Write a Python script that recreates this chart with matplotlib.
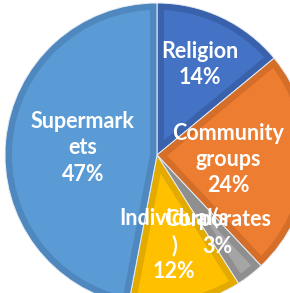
import numpy as np
import matplotlib.pyplot as plt
from matplotlib.patches import Wedge

# data
labels = ["Religion", "Community\ngroups", "Corporates", "Individual(s\n)", "Supermark\nets"]
values = [14, 24, 3, 12, 47]
colors = ["#4472C4", "#ED7D31", "#A5A5A5", "#FFC000", "#5B9BD5"]
edges = ["#3A62AC", "#D46E28", "#8F8F8F", "#E3AA00", "#4F88BE"]

# layout (pixel space of the 290x293 picture)
cx, cy, R = 157, 293 - 155, 152
label_r = [0.66, 0.47, 0.65, 0.60, 0.49]

fig = plt.figure(figsize=(2.9, 2.93), dpi=100)
ax = fig.add_axes([0, 0, 1, 1])
ax.set_xlim(0, 290)
ax.set_ylim(0, 293)
ax.set_aspect("equal")
ax.axis("off")

start = 90.0
total = sum(values)
for i in range(len(values)):
    span = 360.0 * values[i] / total
    t2 = start
    t1 = start - span
    w = Wedge((cx, cy), R, t1, t2, facecolor=colors[i], edgecolor=edges[i], linewidth=10)
    ax.add_patch(w)
    w.set_clip_path(w)
    # thin light separator
    ax.add_patch(Wedge((cx, cy), R, t1, t2, facecolor="none", edgecolor="#e8eef6", linewidth=0.7))
    mid = np.deg2rad((t1 + t2) / 2)
    lx = cx + label_r[i] * R * np.cos(mid)
    ly = cy + label_r[i] * R * np.sin(mid)
    ax.text(lx, ly, labels[i] + "\n" + str(values[i]) + "%", ha="center", va="center",
            color="white", fontsize=15.5, fontweight="bold", family="Lato", linespacing=1.32)
    start = t1

fig.savefig("out.png", dpi=100)
